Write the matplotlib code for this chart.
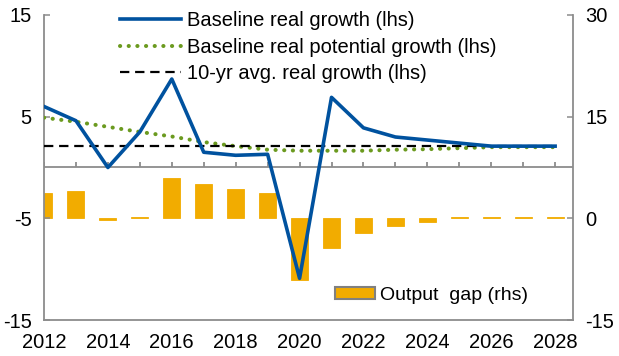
import matplotlib
matplotlib.use("Agg")
import matplotlib.pyplot as plt
from matplotlib.patches import Patch

plt.rcParams['font.family'] = ['Liberation Sans', 'DejaVu Sans']
plt.rcParams['axes.unicode_minus'] = False

# data (%), 2012-2028
years = list(range(2012, 2029))
real_growth = [6.0, 4.6, 0.0, 3.5, 8.7, 1.5, 1.2, 1.3, -10.9, 6.9, 3.9, 3.0, 2.7, 2.4, 2.1, 2.1, 2.1]
potential_growth = [4.9, 4.5, 4.0, 3.5, 3.05, 2.5, 2.1, 1.75, 1.65, 1.65, 1.65, 1.75, 1.8, 1.9, 2.0, 2.0, 2.0]
avg_growth_10yr = 2.1
output_gap = [3.8, 4.1, -0.2, 0.2, 6.0, 5.0, 4.3, 3.8, -9.1, -4.4, -2.2, -1.1, -0.5, 0.2, 0.2, 0.2, 0.2]

left_ticks = [-15, -5, 5, 15]
right_ticks = [-15, 0, 15, 30]
year_labels = years[::2]

blue = '#00529F'
green = '#6B9A1F'
orange = '#F2AC00'
axis_grey = '#8C8C8C'
fs = 14.5

fig = plt.figure(figsize=(6.19, 3.56), dpi=100)
ax1 = fig.add_axes([0.0711, 0.1011, 0.8546, 0.8568])
ax2 = ax1.twinx()

# output gap bars on the right axis
ax2.bar(years, output_gap, width=0.53, color=orange, edgecolor=orange,
        linewidth=0.6, zorder=2)
ax2.set_ylim(-15, 30)
ax2.set_yticks(right_ticks)

# growth lines on the left axis, drawn above the bars
ax1.set_zorder(ax2.get_zorder() + 1)
ax1.patch.set_visible(False)

ax1.axhline(0, color=axis_grey, lw=1.3, zorder=1)
ax1.vlines(years, 0, 0.55, color=axis_grey, lw=1.3, zorder=1)

l1, = ax1.plot(years, real_growth, color=blue, lw=2.6, zorder=4,
               label='Baseline real growth (lhs)')
l2, = ax1.plot(years, potential_growth, color=green, lw=2.9, zorder=3,
               linestyle=(0, (0.05, 2.1)), dash_capstyle='round',
               label='Baseline real potential growth (lhs)')
l3, = ax1.plot([years[0], years[-1]], [avg_growth_10yr, avg_growth_10yr],
               color='black', lw=1.6, linestyle=(0, (4.2, 2.6)), zorder=3,
               label='10-yr avg. real growth (lhs)')

ax1.set_xlim(2012, 2028.56)
ax1.set_ylim(-15, 15)
ax1.set_yticks(left_ticks)
ax1.set_xticks(year_labels)

for ax in (ax1, ax2):
    for s in ax.spines.values():
        s.set_color(axis_grey)
        s.set_linewidth(1.3)
    ax.spines['top'].set_visible(False)
    ax.tick_params(axis='y', direction='in', length=4, width=1.1,
                   color=axis_grey, labelsize=fs, pad=9)
ax1.spines['right'].set_visible(False)
ax2.spines['left'].set_visible(False)
ax2.spines['bottom'].set_visible(False)
ax1.tick_params(axis='x', length=0, labelsize=fs, pad=9)

gap_handle = Patch(facecolor=orange, edgecolor='#808080', linewidth=1.5)
leg2 = ax1.legend(handles=[gap_handle], labels=['Output  gap (rhs)'],
                  loc='upper left', bbox_to_anchor=(0.551, 0.108),
                  frameon=False, fontsize=14, handlelength=2.05, handleheight=0.55,
                  handletextpad=0.25, borderpad=0, borderaxespad=0)
ax1.add_artist(leg2)
ax1.legend(handles=[l1, l2, l3], loc='upper left', bbox_to_anchor=(0.144, 1.012),
           frameon=False, fontsize=fs, handlelength=3.0, handletextpad=0.3,
           labelspacing=0.36, borderpad=0, borderaxespad=0)

fig.savefig('out.png', dpi=100)
